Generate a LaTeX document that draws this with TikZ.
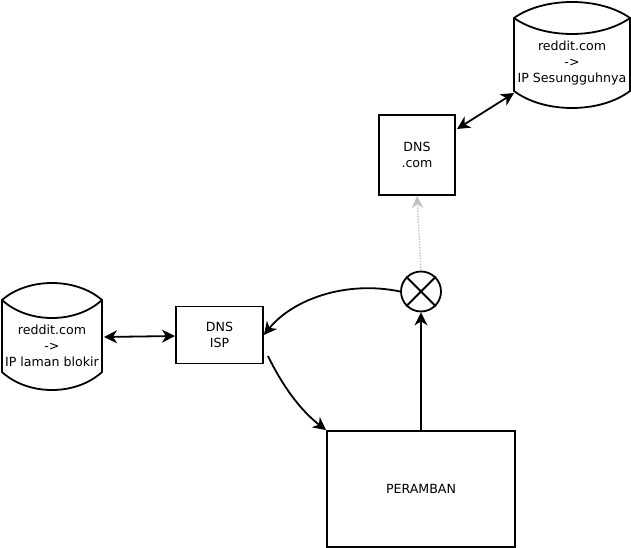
\documentclass[tikz,border=0pt]{standalone}
\usepackage{fontspec}
\setmainfont{DejaVu Sans}
\usetikzlibrary{arrows.meta}
\begin{document}
\begin{tikzpicture}[x=1pt,y=-1pt,
  every node/.style={font=\fontsize{12.6}{16}\selectfont},
  box/.style={draw=black,line width=1.8pt,fill=white,inner sep=0pt,align=center},
  cyl/.style={draw=black,line width=1.8pt,fill=white},
  lbl/.style={inner sep=0pt,align=center},
  tip/.style={-{Stealth[length=13pt,width=13pt,inset=4pt]}},
  dtip/.style={{Stealth[length=13pt,width=13pt,inset=4pt]}-{Stealth[length=13pt,width=13pt,inset=4pt]}},
  conn/.style={line width=1.8pt,black},
  hint/.style={line width=1.3pt,draw=black!25,dash pattern=on 1.4pt off 1.4pt,-{Stealth[length=12pt,width=11pt,inset=4pt]}}
]
\useasboundingbox (0,0) rectangle (631,548);

% top-right datastore
\draw[cyl] (514,18) .. controls (544,-3.33) and (600,-3.33) .. (630,18)
  -- (630,91) .. controls (600,113.67) and (544,113.67) .. (514,91) -- cycle;
\draw[cyl,fill=none] (514,18) .. controls (544,39.33) and (600,39.33) .. (630,18);
\node[lbl] (dbreal) at (572,63.5) {reddit.com\\->\\IP Sesungguhnya};
\coordinate (dbrealIn) at (514,93);

% left datastore
\draw[cyl] (2,300) .. controls (28,277.33) and (76,277.33) .. (102,300)
  -- (102,372) .. controls (76,396) and (28,396) .. (2,372) -- cycle;
\draw[cyl,fill=none] (2,300) .. controls (28,324) and (76,324) .. (102,300);
\node[lbl] (dbblock) at (52,346) {reddit.com\\->\\IP laman blokir};
\coordinate (dbblockIn) at (104,337);

% boxes
\node[box,minimum width=76pt,minimum height=80pt] (dnscom) at (417,155) {DNS\\.com};
\node[box,minimum width=87pt,minimum height=57pt] (dnsisp) at (219.5,335) {DNS\\ISP};
\node[box,minimum width=188pt,minimum height=116pt] (peramban) at (421,489) {PERAMBAN};

% circle with X
\node[draw=black,line width=1.8pt,circle,minimum size=40pt,inner sep=0pt] (xor) at (421,291.5) {};
\draw[line width=1.8pt] (xor.north west) -- (xor.south east) (xor.north east) -- (xor.south west);

% connectors
\coordinate (dnscomOut) at (457,129);
\draw[conn,dtip] (dnscomOut) -- (dbrealIn);
\coordinate (dnsisplIn) at (175,336);
\draw[conn,dtip] (dbblockIn) -- (dnsisplIn);
\draw[hint] (xor.north) -- (dnscom.south);
\draw[conn,tip] (xor.west) .. controls (345,280) and (292,300) .. (dnsisp.east);
\coordinate (ispOut) at (268,356);
\draw[conn,tip] (ispOut) .. controls (282,385) and (300,410) .. (peramban.north west);
\draw[conn,tip] (peramban.north) -- (xor.south);
\end{tikzpicture}
\end{document}
